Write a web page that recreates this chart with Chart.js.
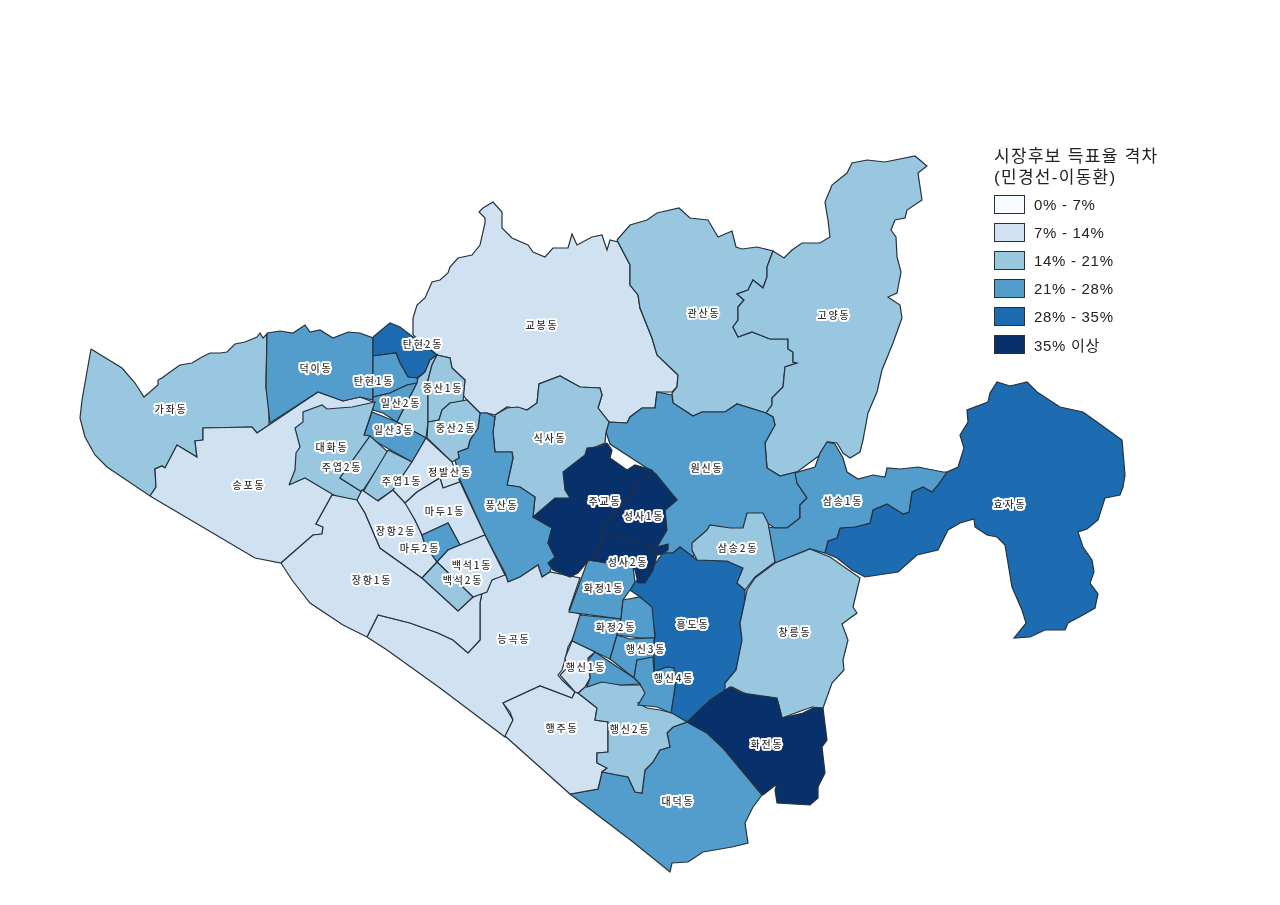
<!DOCTYPE html>
<html lang="ko">
<head>
<meta charset="utf-8">
<title>시장후보 득표율 격차</title>
<script src="https://cdn.jsdelivr.net/npm/chart.js@4"></script>
<style>
  html, body { margin: 0; padding: 0; background: #fff; }
  #wrap { position: relative; width: 1280px; height: 905px; overflow: hidden; }
  #legend { position: absolute; left: 994px; top: 146px; color: #222; font-family: "Liberation Sans", "Noto Sans CJK KR", sans-serif; }
  #legend .title { font-size: 17px; line-height: 21px; letter-spacing: 1.3px; margin-bottom: 2px; }
  #legend .row { display: flex; align-items: center; height: 28px; font-size: 15px; letter-spacing: 0.7px; }
  #legend .swatch { width: 29px; height: 17px; border: 1px solid #25313d; margin-right: 9px; }
</style>
</head>
<body>
<div id="wrap">
  <canvas id="map" width="1280" height="905"></canvas>
  <div id="legend"></div>
</div>
<script>
const binLabels = ["0% - 7%", "7% - 14%", "14% - 21%", "21% - 28%", "28% - 35%", "35% 이상"];
const binColors = ["#F7FBFF", "#D0E1F2", "#9AC7E0", "#529DCC", "#1D6CB1", "#08306B"];
const legendTitle = ["시장후보 득표율 격차", "(민경선-이동환)"];

// 행정동 이름 (빈 문자열은 이름표가 없는 조각)
const names = [
  "교봉동", "관산동", "고양동", "원신동", "식사동", "풍산동", "가좌동", "송포동", "덕이동",
  "탄현2동", "탄현1동", "일산2동", "", "일산3동", "중산1동", "중산2동", "대화동", "주엽2동", "주엽1동",
  "능곡동", "장항1동", "장항2동", "정발산동", "마두1동", "마두2동", "백석1동", "백석2동",
  "효자동", "삼송1동", "흥도동", "삼송2동", "창릉동", "대덕동", "행주동", "행신2동", "화전동",
  "화정1동", "화정2동", "", "행신3동", "행신4동", "", "행신1동", "주교동", "성사1동", "성사2동"
];

// 구간 번호 (binLabels 기준)
const bins = [
  1, 2, 2, 3, 2, 3, 2, 1, 3,
  4, 3, 3, 2, 3, 2, 2, 2, 2, 2,
  1, 1, 1, 1, 1, 3, 1, 2,
  4, 3, 4, 2, 2, 3, 1, 2, 5,
  3, 3, 3, 3, 3, 3, 1, 5, 5, 5
];

// 경계선
const outlines = [
  [[413,335],[413,318],[417,305],[425,298],[432,282],[440,280],[448,273],[450,267],[458,258],[472,255],[480,245],[485,223],[485,218],[479,212],[483,208],[493,202],[502,212],[502,228],[512,238],[528,245],[533,252],[545,257],[553,248],[568,248],[572,234],[577,245],[592,237],[602,235],[607,250],[610,240],[618,242],[630,265],[630,285],[638,295],[640,308],[652,338],[657,355],[678,375],[677,387],[672,392],[657,392],[655,408],[642,408],[630,417],[627,423],[609,422],[598,408],[602,395],[600,388],[580,387],[560,376],[539,384],[537,403],[527,410],[507,407],[495,415],[487,413],[480,413],[467,400],[463,395],[465,380],[452,368],[450,358],[437,355]],
  [[617,240],[630,225],[647,220],[657,213],[679,208],[690,218],[708,220],[718,237],[732,231],[736,247],[742,249],[757,247],[773,251],[767,267],[767,277],[763,288],[753,280],[748,290],[737,294],[744,300],[738,307],[738,320],[733,327],[738,337],[752,332],[770,339],[788,339],[788,349],[793,352],[793,362],[797,363],[785,367],[783,387],[772,398],[772,405],[766,413],[737,404],[725,412],[702,412],[693,416],[673,403],[672,393],[677,387],[678,375],[657,355],[652,338],[640,308],[638,295],[630,285],[630,265]],
  [[773,251],[784,258],[792,250],[802,243],[820,243],[830,237],[828,220],[825,202],[832,185],[847,173],[852,163],[867,160],[885,162],[915,156],[927,166],[918,173],[922,200],[907,210],[905,218],[895,220],[891,230],[896,237],[897,257],[901,272],[897,293],[888,297],[900,305],[902,318],[893,343],[882,370],[877,392],[868,413],[863,440],[860,452],[850,458],[843,453],[837,443],[828,442],[820,455],[797,472],[780,476],[767,468],[765,443],[775,425],[773,417],[766,413],[772,405],[772,398],[783,387],[785,367],[797,363],[793,362],[793,352],[788,349],[788,339],[770,339],[752,332],[738,337],[733,327],[738,320],[738,307],[744,300],[737,294],[748,290],[753,280],[763,288],[767,277],[767,267]],
  [[609,422],[627,423],[630,417],[642,408],[655,408],[657,392],[672,395],[673,403],[693,416],[702,412],[725,412],[737,404],[766,413],[773,417],[775,425],[765,443],[767,468],[780,476],[796,472],[797,483],[807,498],[800,505],[800,518],[787,528],[775,528],[767,523],[755,520],[745,535],[720,540],[700,545],[693,557],[680,547],[673,553],[663,553],[668,545],[657,547],[665,530],[665,510],[677,500],[653,472],[610,444],[606,432]],
  [[495,415],[507,408],[518,407],[527,410],[537,403],[539,384],[560,376],[580,387],[600,388],[602,395],[598,408],[609,422],[606,432],[605,443],[593,448],[570,500],[533,517],[535,497],[520,487],[507,485],[513,458],[512,452],[495,452],[493,432],[495,417]],
  [[455,460],[459,458],[458,452],[468,448],[470,440],[478,428],[480,413],[487,413],[495,417],[493,432],[495,452],[512,452],[513,458],[507,485],[520,487],[535,497],[533,517],[552,528],[548,543],[555,557],[550,572],[542,577],[538,565],[520,577],[508,582],[505,573],[485,535],[460,480]],
  [[91,349],[122,368],[135,383],[144,397],[158,385],[158,380],[162,378],[170,372],[180,365],[192,363],[202,357],[210,353],[220,353],[227,352],[235,344],[245,342],[257,337],[260,333],[263,338],[267,334],[266,387],[269,402],[269,425],[257,433],[252,427],[203,428],[203,440],[195,441],[197,457],[177,445],[165,468],[162,466],[155,469],[156,487],[150,496],[107,467],[95,455],[85,437],[80,418],[82,400]],
  [[150,496],[156,487],[155,469],[162,466],[165,468],[177,445],[197,457],[195,441],[203,440],[203,428],[252,427],[257,433],[269,425],[318,392],[343,401],[360,397],[373,402],[350,470],[332,495],[316,524],[323,527],[322,534],[313,535],[281,563],[255,558]],
  [[267,333],[280,331],[293,333],[305,325],[310,332],[320,330],[333,338],[348,332],[360,333],[373,338],[373,400],[360,397],[343,401],[318,392],[270,423],[266,388]],
  [[373,337],[390,323],[400,327],[413,337],[437,355],[430,360],[425,372],[417,378],[408,377],[400,363],[396,353],[373,356]],
  [[373,356],[396,353],[400,363],[408,377],[417,378],[418,383],[407,385],[390,393],[373,397]],
  [[373,397],[390,393],[407,385],[417,383],[397,422],[383,413],[373,410]],
  [[425,372],[430,360],[437,355],[432,365],[428,380],[428,422],[426,438],[397,422],[417,383],[418,378]],
  [[372,412],[397,422],[426,438],[412,462],[364,435]],
  [[437,355],[450,358],[452,368],[465,380],[463,402],[450,403],[442,410],[439,420],[428,422],[428,380],[432,365]],
  [[428,422],[439,420],[442,410],[450,403],[467,400],[480,413],[478,428],[470,440],[468,448],[458,452],[459,458],[452,462],[427,438]],
  [[289,485],[295,470],[296,453],[300,447],[295,428],[303,422],[303,412],[322,405],[327,409],[352,407],[375,402],[364,435],[370,436],[340,478],[362,492],[354,506],[332,494],[305,478]],
  [[370,436],[388,452],[362,492],[340,478]],
  [[388,450],[412,462],[393,490],[377,501],[363,492]],
  [[367,637],[378,615],[410,623],[438,633],[453,640],[468,653],[480,640],[480,603],[482,593],[492,580],[505,573],[508,582],[520,577],[538,565],[542,577],[550,572],[580,578],[569,610],[582,615],[572,640],[568,647],[565,660],[562,670],[558,675],[562,680],[575,692],[572,698],[540,686],[503,703],[513,720],[505,737],[440,688],[387,650]],
  [[281,563],[313,535],[322,534],[323,527],[316,524],[332,495],[357,500],[365,513],[380,548],[422,578],[458,611],[473,597],[482,593],[480,603],[480,640],[468,653],[453,640],[438,633],[410,623],[378,615],[367,637],[343,625],[310,603],[292,580]],
  [[357,500],[362,490],[378,501],[393,490],[407,505],[415,520],[422,535],[425,545],[437,562],[422,578],[380,548],[365,513]],
  [[426,438],[452,462],[460,482],[443,488],[440,478],[417,492],[405,503],[393,490],[412,462]],
  [[405,503],[417,492],[440,478],[443,488],[460,482],[485,535],[460,545],[448,523],[422,535],[415,520]],
  [[422,535],[448,523],[460,545],[448,550],[437,562],[425,545]],
  [[460,545],[485,535],[505,575],[492,580],[487,592],[473,597],[437,562],[448,550]],
  [[437,562],[473,597],[458,611],[422,578]],
  [[825,553],[828,541],[837,538],[840,528],[855,527],[870,523],[873,510],[887,504],[900,510],[903,514],[909,512],[912,492],[923,487],[932,492],[938,485],[947,472],[958,467],[964,448],[960,435],[968,422],[967,410],[988,402],[990,393],[997,382],[1010,386],[1027,382],[1037,392],[1060,407],[1083,412],[1097,422],[1115,435],[1122,440],[1125,475],[1123,487],[1120,495],[1105,498],[1098,520],[1087,529],[1078,532],[1083,547],[1092,560],[1094,572],[1090,583],[1098,594],[1095,608],[1083,615],[1068,623],[1065,630],[1045,630],[1030,637],[1014,638],[1026,623],[1022,610],[1012,587],[1007,557],[1005,545],[997,537],[987,535],[975,527],[974,519],[960,523],[948,530],[938,550],[917,555],[898,572],[865,577],[852,570],[837,558]],
  [[775,528],[787,528],[800,518],[800,505],[807,498],[797,483],[795,473],[815,467],[820,453],[827,442],[835,444],[843,458],[847,472],[858,479],[873,475],[885,477],[887,468],[900,469],[918,467],[943,472],[947,472],[938,485],[932,492],[923,487],[912,492],[909,512],[903,514],[887,504],[873,510],[870,523],[855,527],[840,528],[837,538],[828,541],[825,553],[810,549],[775,563],[768,527]],
  [[663,553],[673,553],[680,547],[693,557],[697,560],[727,561],[743,568],[737,583],[745,590],[745,600],[740,623],[742,640],[736,670],[725,683],[730,687],[687,722],[671,713],[675,687],[674,668],[667,667],[654,672],[653,650],[655,633],[650,607],[640,597],[630,590],[635,582],[650,570]],
  [[692,543],[707,530],[710,525],[730,528],[743,528],[747,513],[763,513],[768,523],[775,562],[755,577],[745,590],[737,583],[743,568],[727,561],[697,560],[692,550]],
  [[755,578],[775,563],[810,549],[830,557],[860,578],[853,607],[857,613],[842,624],[848,640],[843,660],[844,670],[832,683],[823,708],[812,707],[798,712],[782,718],[778,702],[768,697],[757,698],[742,692],[732,687],[725,692],[725,683],[736,670],[742,640],[740,623],[745,600],[747,590]],
  [[687,722],[707,733],[723,748],[762,795],[753,807],[745,823],[748,843],[732,847],[703,852],[688,862],[672,863],[670,872],[633,842],[570,794],[598,789],[602,772],[628,777],[635,792],[642,793],[645,770],[653,762],[660,750],[670,747],[667,733],[673,727]],
  [[503,703],[540,686],[572,698],[575,692],[578,693],[597,708],[595,720],[608,722],[608,752],[597,753],[597,763],[607,768],[602,772],[598,789],[570,794],[505,736],[513,720],[510,712]],
  [[578,693],[590,682],[605,680],[620,685],[640,685],[648,692],[643,702],[638,703],[647,708],[660,710],[672,713],[687,722],[673,727],[667,733],[670,747],[660,750],[653,762],[645,770],[642,793],[635,792],[628,777],[602,772],[607,768],[597,763],[597,753],[608,752],[608,722],[595,720],[597,708]],
  [[687,722],[710,700],[730,687],[742,693],[777,698],[782,718],[803,713],[813,708],[823,708],[827,740],[822,747],[825,773],[818,787],[818,798],[810,805],[777,803],[775,790],[777,784],[763,795],[723,748],[707,733]],
  [[588,560],[633,567],[635,582],[630,590],[623,600],[621,619],[569,612]],
  [[580,615],[621,619],[617,635],[610,659],[595,652],[572,641]],
  [[623,600],[640,597],[652,607],[655,638],[640,638],[617,635],[621,619]],
  [[617,635],[630,639],[650,638],[654,638],[654,672],[637,660],[634,678],[610,659]],
  [[637,660],[653,657],[654,672],[667,667],[674,668],[675,687],[671,713],[657,707],[638,705],[645,693],[640,684],[634,678]],
  [[595,652],[634,678],[640,684],[620,685],[602,682],[587,687],[590,678],[588,660]],
  [[572,641],[595,652],[588,658],[590,678],[585,687],[578,693],[575,692],[560,675],[567,668],[565,658]],
  [[607,443],[612,450],[610,458],[627,470],[635,465],[652,470],[655,475],[632,487],[633,493],[620,507],[603,528],[603,533],[597,558],[588,561],[578,573],[570,577],[553,570],[548,563],[555,557],[548,543],[552,528],[533,517],[555,498],[570,498],[565,490],[563,472],[585,455],[587,448],[598,447]],
  [[655,473],[677,500],[665,510],[667,530],[657,547],[668,544],[668,550],[662,554],[658,555],[648,545],[603,533],[603,528],[620,507],[633,493],[632,487]],
  [[603,533],[648,545],[657,555],[653,570],[645,583],[638,583],[635,570],[633,567],[588,560],[597,558]]
];

// 이름표 자리
const labelSpots = [
  [542,325],[704,313],[834,315],[707,468],[550,438],[502,505],[171,409],[249,485],[316,368],
  [423,344],[374,381],[401,403],[0,0],[394,430],[443,388],[456,428],[332,447],[342,467],[402,481],
  [514,639],[372,580],[396,531],[450,472],[445,511],[420,548],[472,565],[463,580],
  [1010,504],[843,501],[693,624],[738,548],[795,632],[678,801],[562,728],[630,729],[767,744],
  [604,588],[616,627],[0,0],[646,649],[674,678],[0,0],[586,667],[605,501],[644,516],[628,562]
];

const toPoints = (line) => line.concat([line[0]]).map(([x, y]) => ({ x, y }));

const districtLabels = {
  id: "districtLabels",
  afterDatasetsDraw(chart) {
    const { ctx, scales } = chart;
    ctx.save();
    ctx.font = "500 10px 'Noto Sans CJK KR', sans-serif";
    ctx.letterSpacing = "1.8px";
    ctx.textAlign = "center";
    ctx.textBaseline = "middle";
    ctx.lineJoin = "round";
    names.forEach((name, i) => {
      if (!name) return;
      const px = scales.x.getPixelForValue(labelSpots[i][0]);
      const py = scales.y.getPixelForValue(labelSpots[i][1]);
      ctx.lineWidth = 4;
      ctx.strokeStyle = "#fff";
      ctx.strokeText(name, px, py);
      ctx.fillStyle = "#333";
      ctx.fillText(name, px, py);
    });
    ctx.restore();
  }
};

new Chart(document.getElementById("map"), {
  type: "scatter",
  data: {
    // 위에 올라올 조각일수록 order가 작아야 한다
    datasets: outlines.map((line, i) => ({
      label: names[i],
      order: outlines.length - i,
      data: toPoints(line),
      showLine: true,
      tension: 0,
      pointRadius: 0,
      pointHitRadius: 0,
      borderWidth: 1.2,
      borderColor: "#25313d",
      backgroundColor: binColors[bins[i]],
      fill: "shape"
    }))
  },
  options: {
    responsive: false,
    animation: false,
    events: [],
    layout: { padding: 0 },
    plugins: { legend: { display: false }, tooltip: { enabled: false }, title: { display: false } },
    scales: {
      x: { type: "linear", min: 0, max: 1280, display: false },
      y: { type: "linear", min: 0, max: 905, reverse: true, display: false }
    }
  },
  plugins: [districtLabels]
});

const legendBox = document.getElementById("legend");
legendBox.innerHTML =
  '<div class="title">' + legendTitle.join("<br>") + "</div>" +
  binLabels.map((t, i) =>
    '<div class="row"><span class="swatch" style="background:' + binColors[i] + '"></span>' + t + "</div>"
  ).join("");
</script>
</body>
</html>
